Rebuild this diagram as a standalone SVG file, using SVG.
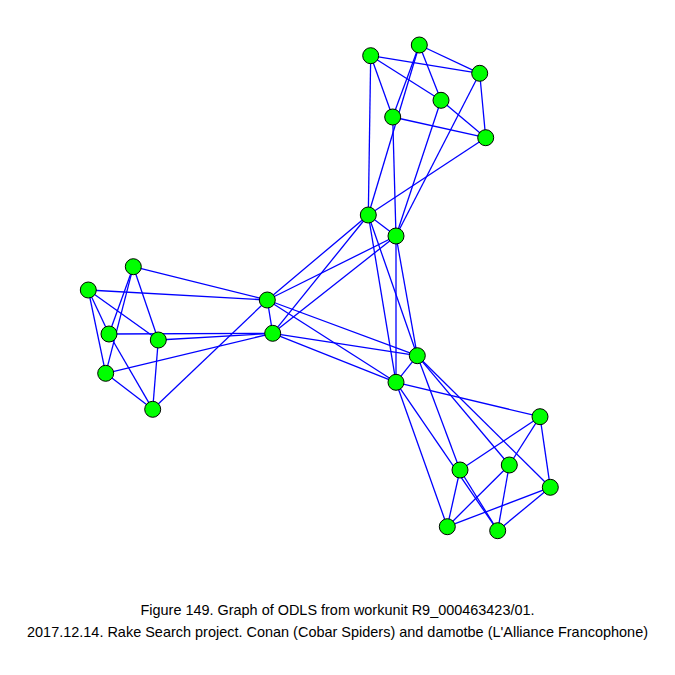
<svg xmlns="http://www.w3.org/2000/svg" width="675" height="675" viewBox="0 0 675 675">
<style>
.e{stroke:#0000ff;stroke-width:1.3;fill:none}
.n{fill:#00ff00;stroke:#000;stroke-width:1}
.t{font-family:"Liberation Sans Narrow","Liberation Sans",Arial,sans-serif;font-size:14.5px;fill:#000;text-anchor:middle}
</style>
<rect width="675" height="675" fill="#fff"/>
<g id="edges" class="e">
<!-- top cluster -->
<line x1="370.7" y1="55.7" x2="479.7" y2="73.3"/>
<line x1="370.7" y1="55.7" x2="441" y2="100.3"/>
<line x1="370.7" y1="55.7" x2="392.7" y2="117"/>
<line x1="419.3" y1="45" x2="479.7" y2="73.3"/>
<line x1="419.3" y1="45" x2="441" y2="100.3"/>
<line x1="419.3" y1="45" x2="392.7" y2="117"/>
<line x1="479.7" y1="73.3" x2="485.7" y2="137.7"/>
<line x1="441" y1="100.3" x2="485.7" y2="137.7"/>
<line x1="392.7" y1="117" x2="485.7" y2="137.7"/>
<line x1="368.3" y1="215" x2="370.7" y2="55.7"/>
<line x1="368.3" y1="215" x2="419.3" y2="45"/>
<line x1="368.3" y1="215" x2="485.7" y2="137.7"/>
<line x1="396" y1="236" x2="479.7" y2="73.3"/>
<line x1="396" y1="236" x2="441" y2="100.3"/>
<line x1="396" y1="236" x2="392.7" y2="117"/>
<!-- left cluster -->
<line x1="133.3" y1="266.7" x2="109" y2="334"/>
<line x1="133.3" y1="266.7" x2="158.3" y2="340"/>
<line x1="133.3" y1="266.7" x2="105.7" y2="373.3"/>
<line x1="88.3" y1="290" x2="109" y2="334"/>
<line x1="88.3" y1="290" x2="158.3" y2="340"/>
<line x1="88.3" y1="290" x2="105.7" y2="373.3"/>
<line x1="109" y1="334" x2="152.7" y2="409.3"/>
<line x1="158.3" y1="340" x2="152.7" y2="409.3"/>
<line x1="105.7" y1="373.3" x2="152.7" y2="409.3"/>
<line x1="267.3" y1="300" x2="133.3" y2="266.7"/>
<line x1="267.3" y1="300" x2="88.3" y2="290"/>
<line x1="267.3" y1="300" x2="152.7" y2="409.3"/>
<line x1="272.7" y1="333.3" x2="109" y2="334"/>
<line x1="272.7" y1="333.3" x2="158.3" y2="340"/>
<line x1="272.7" y1="333.3" x2="105.7" y2="373.3"/>
<!-- right cluster -->
<line x1="540" y1="416.7" x2="460" y2="470"/>
<line x1="540" y1="416.7" x2="509.3" y2="465"/>
<line x1="540" y1="416.7" x2="550.3" y2="487.3"/>
<line x1="460" y1="470" x2="447.3" y2="526.7"/>
<line x1="460" y1="470" x2="497.7" y2="530.7"/>
<line x1="509.3" y1="465" x2="447.3" y2="526.7"/>
<line x1="509.3" y1="465" x2="497.7" y2="530.7"/>
<line x1="550.3" y1="487.3" x2="447.3" y2="526.7"/>
<line x1="550.3" y1="487.3" x2="497.7" y2="530.7"/>
<line x1="396" y1="382.3" x2="540" y2="416.7"/>
<line x1="396" y1="382.3" x2="447.3" y2="526.7"/>
<line x1="396" y1="382.3" x2="497.7" y2="530.7"/>
<line x1="417.3" y1="355.7" x2="460" y2="470"/>
<line x1="417.3" y1="355.7" x2="509.3" y2="465"/>
<line x1="417.3" y1="355.7" x2="550.3" y2="487.3"/>
<!-- hubs -->
<line x1="368.3" y1="215" x2="396" y2="236"/>
<line x1="267.3" y1="300" x2="272.7" y2="333.3"/>
<line x1="417.3" y1="355.7" x2="396" y2="382.3"/>
<line x1="368.3" y1="215" x2="267.3" y2="300"/>
<line x1="368.3" y1="215" x2="272.7" y2="333.3"/>
<line x1="396" y1="236" x2="267.3" y2="300"/>
<line x1="396" y1="236" x2="272.7" y2="333.3"/>
<line x1="368.3" y1="215" x2="417.3" y2="355.7"/>
<line x1="368.3" y1="215" x2="396" y2="382.3"/>
<line x1="396" y1="236" x2="417.3" y2="355.7"/>
<line x1="396" y1="236" x2="396" y2="382.3"/>
<line x1="267.3" y1="300" x2="417.3" y2="355.7"/>
<line x1="267.3" y1="300" x2="396" y2="382.3"/>
<line x1="272.7" y1="333.3" x2="417.3" y2="355.7"/>
<line x1="272.7" y1="333.3" x2="396" y2="382.3"/>
</g>
<g id="A1"><circle class="n" cx="370.7" cy="55.7" r="8"/></g>
<g id="A2"><circle class="n" cx="419.3" cy="45" r="8"/></g>
<g id="A3"><circle class="n" cx="479.7" cy="73.3" r="8"/></g>
<g id="A4"><circle class="n" cx="441" cy="100.3" r="8"/></g>
<g id="A5"><circle class="n" cx="392.7" cy="117" r="8"/></g>
<g id="A6"><circle class="n" cx="485.7" cy="137.7" r="8"/></g>
<g id="H1"><circle class="n" cx="368.3" cy="215" r="8"/></g>
<g id="H2"><circle class="n" cx="396" cy="236" r="8"/></g>
<g id="B1"><circle class="n" cx="133.3" cy="266.7" r="8"/></g>
<g id="B2"><circle class="n" cx="88.3" cy="290" r="8"/></g>
<g id="B3"><circle class="n" cx="109" cy="334" r="8"/></g>
<g id="B4"><circle class="n" cx="158.3" cy="340" r="8"/></g>
<g id="B5"><circle class="n" cx="105.7" cy="373.3" r="8"/></g>
<g id="B6"><circle class="n" cx="152.7" cy="409.3" r="8"/></g>
<g id="L1"><circle class="n" cx="267.3" cy="300" r="8"/></g>
<g id="L2"><circle class="n" cx="272.7" cy="333.3" r="8"/></g>
<g id="R1"><circle class="n" cx="417.3" cy="355.7" r="8"/></g>
<g id="R2"><circle class="n" cx="396" cy="382.3" r="8"/></g>
<g id="C1"><circle class="n" cx="540" cy="416.7" r="8"/></g>
<g id="C2"><circle class="n" cx="460" cy="470" r="8"/></g>
<g id="C3"><circle class="n" cx="509.3" cy="465" r="8"/></g>
<g id="C4"><circle class="n" cx="550.3" cy="487.3" r="8"/></g>
<g id="C5"><circle class="n" cx="447.3" cy="526.7" r="8"/></g>
<g id="C6"><circle class="n" cx="497.7" cy="530.7" r="8"/></g>
<g id="caption">
<text class="t" x="337.5" y="615" textLength="394" lengthAdjust="spacingAndGlyphs">Figure 149. Graph of ODLS from workunit R9_000463423/01.</text>
<text class="t" x="337.5" y="637" textLength="621" lengthAdjust="spacingAndGlyphs">2017.12.14. Rake Search project. Conan (Cobar Spiders) and damotbe (L'Alliance Francophone)</text>
</g>
</svg>
